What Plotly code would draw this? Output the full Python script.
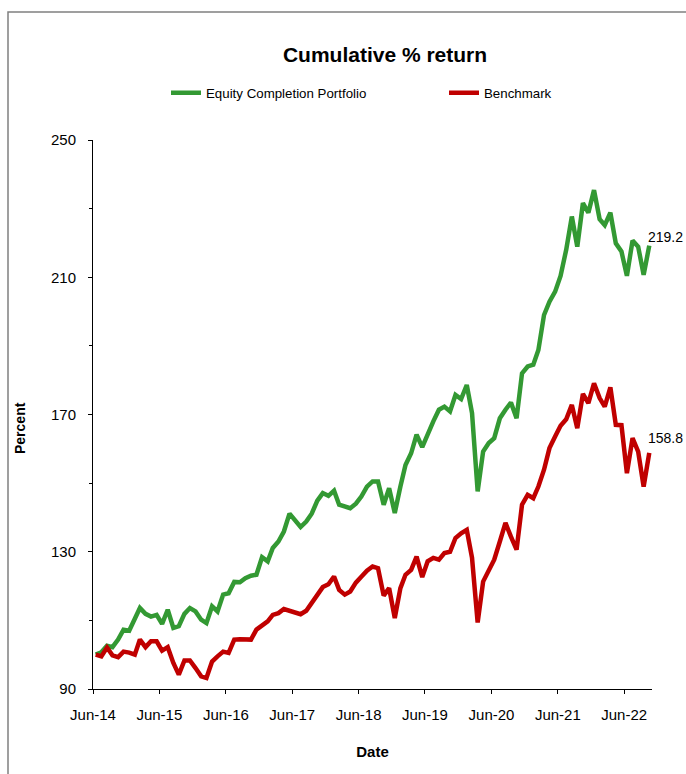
import pandas as pd
import plotly.graph_objects as go

dates = pd.date_range("2014-06-30", periods=101, freq="ME")

portfolio = [
    100.0, 100.7, 102.6, 102.2, 104.4, 107.3, 107.0, 110.2, 113.6, 111.9,
    111.1, 111.6, 109.0, 113.1, 107.8, 108.3, 111.9, 113.6, 112.6, 110.2,
    109.2, 114.1, 112.6, 117.5, 117.9, 121.2, 121.1, 122.3, 123.0, 123.3,
    128.4, 127.2, 131.1, 133.0, 135.9, 141.1, 139.1, 137.2, 138.8, 141.1,
    144.9, 147.1, 146.3, 147.8, 143.7, 143.2, 142.7, 144.0, 146.1, 149.0,
    150.5, 150.5, 143.7, 148.5, 141.3, 149.0, 155.3, 158.7, 164.1, 160.5,
    164.4, 168.0, 171.4, 172.3, 170.9, 175.7, 174.5, 178.6, 170.4, 147.6,
    159.2, 161.7, 163.1, 168.9, 171.4, 173.5, 168.9, 182.0, 184.0, 184.5,
    188.8, 199.0, 202.9, 205.8, 210.4, 218.0, 227.7, 218.9, 231.6, 228.8,
    235.4, 226.9, 225.2, 228.8, 219.9, 217.5, 210.4, 220.7, 218.9, 210.7,
    219.2,
]

benchmark = [
    100.0, 99.5, 102.1, 99.8, 99.3, 100.9, 100.6, 100.0, 104.4, 102.2,
    103.9, 103.9, 101.2, 102.2, 97.6, 94.2, 98.3, 98.3, 96.1, 93.7,
    93.2, 98.0, 99.5, 100.9, 100.5, 104.4, 104.5, 104.4, 104.4, 107.3,
    108.6, 109.7, 111.6, 112.1, 113.3, 112.8, 112.1, 111.8, 112.8, 115.0,
    117.5, 119.7, 120.5, 122.8, 118.9, 117.5, 118.4, 121.0, 122.7, 124.5,
    125.7, 125.2, 117.2, 119.4, 110.7, 119.4, 123.3, 124.7, 128.6, 122.6,
    127.2, 128.2, 127.7, 129.6, 130.0, 134.0, 135.4, 136.4, 128.2, 109.4,
    121.3, 124.7, 127.7, 133.0, 138.4, 134.4, 130.6, 143.7, 146.6, 145.6,
    149.0, 153.9, 160.2, 163.6, 166.7, 168.6, 172.8, 166.0, 176.0, 173.3,
    179.1, 174.8, 172.3, 177.9, 167.0, 166.9, 152.9, 163.1, 159.2, 149.0,
    158.8,
]

tick_dates = [f"{y}-06-15" for y in range(2014, 2023)]
tick_labels = [f"Jun-{y % 100:02d}" for y in range(2014, 2023)]
y_ticks = [90, 130, 170, 210, 250]

FONT = "Liberation Sans, Arial, sans-serif"
GREEN = "#339933"
RED = "#C00000"

fig = go.Figure()
fig.add_trace(go.Scatter(x=dates, y=portfolio, mode="lines", name="Equity Completion Portfolio",
                         line=dict(color=GREEN, width=4.5), legend="legend"))
fig.add_trace(go.Scatter(x=dates, y=benchmark, mode="lines", name="Benchmark",
                         line=dict(color=RED, width=4.5), legend="legend2"))

for series, shift in ((portfolio, 9), (benchmark, 15)):
    fig.add_annotation(x=dates[-1], y=series[-1], text=f"{series[-1]:.1f}", showarrow=False,
                       xanchor="left", yanchor="middle", xshift=-3, yshift=shift,
                       font=dict(family=FONT, size=14, color="black"))

fig.add_annotation(xref="paper", yref="paper", x=(20 - 93) / 559, y=(689 - 428) / 549,
                   text="<b>Percent</b>", textangle=-90, showarrow=False,
                   xanchor="center", yanchor="middle",
                   font=dict(family=FONT, size=14, color="black"))

# outer frame
fig.add_shape(type="rect", xref="paper", yref="paper",
              x0=(8 - 93) / 559, x1=1.5, y0=-0.5, y1=1 + (140 - 12) / 549,
              line=dict(color="#808080", width=1.5), fillcolor="rgba(0,0,0,0)", layer="below")

legend_common = dict(orientation="h", xref="container", yref="container",
                     xanchor="left", yanchor="middle",
                     font=dict(family=FONT, size=13.3, color="black"), bgcolor="rgba(0,0,0,0)")

fig.update_layout(
    width=686, height=774,
    margin=dict(l=93, r=34, t=140, b=85),
    paper_bgcolor="white", plot_bgcolor="white",
    title=dict(text="<b>Cumulative % return</b>", x=385 / 686, xref="container", xanchor="center",
               y=1 - 55 / 774, yref="container", yanchor="middle",
               font=dict(family=FONT, size=21, color="black")),
    legend=dict(x=166 / 686, y=1 - 93 / 774, **legend_common),
    legend2=dict(x=444 / 686, y=1 - 93 / 774, **legend_common),
    showlegend=True,
)

fig.update_xaxes(
    range=["2014-06-15", "2022-11-15"],
    tickvals=tick_dates, ticktext=tick_labels,
    showgrid=False, zeroline=False,
    showline=True, linecolor="black", linewidth=1,
    ticks="outside", ticklen=4, tickcolor="black",
    ticklabelstandoff=8,
    tickfont=dict(family=FONT, size=15, color="black"),
    title=dict(text="<b>Date</b>", standoff=24, font=dict(family=FONT, size=15, color="black")),
)
fig.update_yaxes(
    range=[90, 250],
    tickvals=y_ticks,
    showgrid=False, zeroline=False,
    showline=True, linecolor="black", linewidth=1,
    ticks="outside", ticklen=4, tickcolor="black",
    ticklabelstandoff=9,
    minor=dict(tickvals=[110, 150, 190, 230], ticks="outside", ticklen=3, tickcolor="black", showgrid=False),
    tickfont=dict(family=FONT, size=15, color="black"),
)

fig.write_html("out.html", config={"displayModeBar": False},
               post_script="document.body.style.margin='0';")
